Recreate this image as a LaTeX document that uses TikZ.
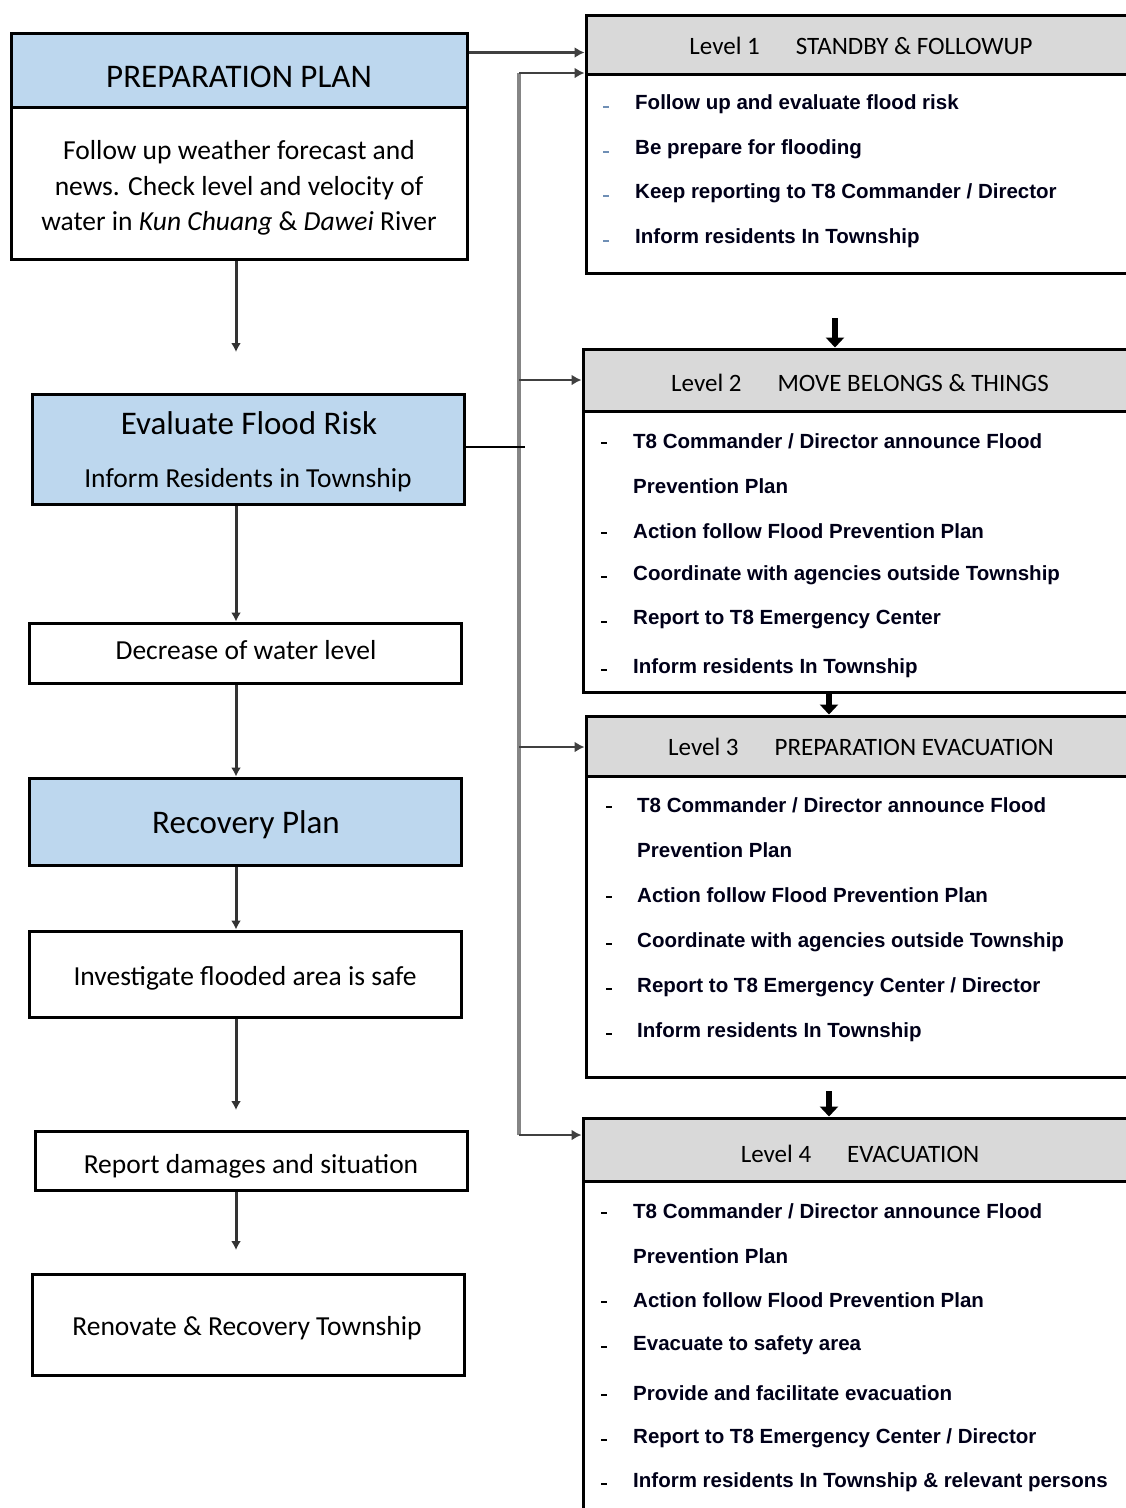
\documentclass[tikz,border=0pt]{standalone}
\usepackage{fontspec}
\setmainfont{Carlito}
\newfontfamily\arialf{Liberation Sans}
\usetikzlibrary{arrows.meta,calc}
\definecolor{hdrblue}{HTML}{BDD7EE}
\definecolor{hdrgray}{HTML}{D9D9D9}
\definecolor{trunkgray}{HTML}{858585}
\definecolor{bulletblue}{HTML}{6F8FB5}
\tikzset{
  box/.style={draw=black,line width=3pt,inner sep=0pt},
  bigtxt/.style={font=\fontsize{33}{36}\selectfont},
  bodytxt/.style={font=\fontsize{27.5}{35.5}\selectfont,align=center},
  lvltxt/.style={font=\fontsize{25}{28}\selectfont},
  itemtxt/.style={font=\arialf\bfseries\fontsize{20.5}{24}\selectfont,anchor=west,inner sep=0pt,text=black!90!blue},
  dashmark/.style={fill=black,inner sep=0pt,minimum width=6pt,minimum height=2.6pt},
  flow/.style={draw=black!80,line width=3pt,-{Latex[length=9pt,width=10pt]}},
  trunk/.style={draw=trunkgray,line width=4pt},
  feed/.style={draw=black!75,line width=2.8pt,-{Latex[length=10pt,width=11pt]}},
  blockarrow/.style={draw=black,line width=6pt,-{Triangle[length=10pt,width=18pt]}},
}
\begin{document}
\begin{tikzpicture}[x=1pt,y=-1pt]
\useasboundingbox (0,0) rectangle (1126,1508);
\clip (0,0) rectangle (1126,1508);
\fill[white] (0,0) rectangle (1126,1508);

% ---------- left column ----------
\node[box,minimum width=456pt,minimum height=226pt] (prep) at (239,146) {};
\node[box,fill=hdrblue,minimum width=456pt,minimum height=74pt] (prephdr) at (239,70) {};
\node[bigtxt] (preptitle) at (239,77) {PREPARATION PLAN};
\node[bodytxt] (preptext) at (239,188) {Follow up weather forecast and\\news. Check level and velocity of\\water in \textit{Kun Chuang} \& \textit{Dawei} River};

\node[box,fill=hdrblue,minimum width=432pt,minimum height=110pt] (eval) at (248,449) {};
\node[bigtxt] (evaltitle) at (249,423) {Evaluate Flood Risk};
\node[bodytxt] (evaltext) at (248,480) {Inform Residents in Township};

\node[box,minimum width=432pt,minimum height=60pt] (dec) at (245,653) {};
\node[bodytxt] (dectext) at (246,650) {Decrease of water level};

\node[box,fill=hdrblue,minimum width=432pt,minimum height=87pt] (rec) at (245,821.5) {};
\node[bigtxt] (rectext) at (246,825) {Recovery Plan};

\node[box,minimum width=432pt,minimum height=86pt] (inv) at (245,974) {};
\node[bodytxt] (invtext) at (245,978) {Investigate flooded area is safe};

\node[box,minimum width=432pt,minimum height=59pt] (rep) at (251,1160.5) {};
\node[bodytxt] (reptext) at (251,1166) {Report damages and situation};

\node[box,minimum width=432pt,minimum height=101pt] (ren) at (248,1324.5) {};
\node[bodytxt] (rentext) at (247,1328) {Renovate \& Recovery Township};

\coordinate (ax) at (236,0);
\coordinate (prepend) at (236,352);
\coordinate (invend) at (236,1110);
\coordinate (repend) at (236,1250);

\draw[flow] (prep.south -| ax) -- (prepend);
\draw[flow] (eval.south -| ax) -- (dec.north -| ax);
\draw[flow] (dec.south -| ax) -- (rec.north -| ax);
\draw[flow] (rec.south -| ax) -- (inv.north -| ax);
\draw[flow] (inv.south -| ax) -- (invend);
\draw[flow] (rep.south -| ax) -- (repend);

% ---------- right column ----------
% Level 1
\node[box,minimum width=550pt,minimum height=258pt] (l1) at (861,144) {};
\node[box,fill=hdrgray,minimum width=550pt,minimum height=59pt] (l1h) at (861,44.5) {};
\node[lvltxt] (l1t) at (861,46) {Level 1\hspace{36pt}STANDBY \& FOLLOWUP};
\foreach \y/\t [count=\i] in {104/{Follow up and evaluate flood risk},149/{Be prepare for flooding},193/{Keep reporting to T8 Commander / Director},238/{Inform residents In Township}}{
  \node[dashmark,fill=bulletblue] (l1d\i) at (606,\y+3) {};
  \node[itemtxt] (l1i\i) at (635,\y) {\t};
}

% Level 2
\node[box,minimum width=554pt,minimum height=343pt] (l2) at (860,520.5) {};
\node[box,fill=hdrgray,minimum width=554pt,minimum height=62pt] (l2h) at (860,380) {};
\node[lvltxt] (l2t) at (860,383) {Level 2\hspace{36pt}MOVE BELONGS \& THINGS};
\foreach \y/\t [count=\i] in {441/{T8 Commander / Director announce Flood},531/{Action follow Flood Prevention Plan},575/{Coordinate with agencies outside Township},620/{Report to T8 Emergency Center},668/{Inform residents In Township}}{
  \node[dashmark] (l2d\i) at (604,\y+2) {};
  \node[itemtxt] (l2i\i) at (633,\y) {\t};
}
\node[itemtxt] (l2c) at (633,486) {Prevention Plan};

% Level 3
\node[box,minimum width=550pt,minimum height=361pt] (l3) at (861,896.5) {};
\node[box,fill=hdrgray,minimum width=550pt,minimum height=60pt] (l3h) at (861,746) {};
\node[lvltxt] (l3t) at (861,747) {Level 3\hspace{36pt}PREPARATION EVACUATION};
\foreach \y/\t [count=\i] in {805/{T8 Commander / Director announce Flood},895/{Action follow Flood Prevention Plan},942/{Coordinate with agencies outside Township},987/{Report to T8 Emergency Center / Director},1032/{Inform residents In Township}}{
  \node[dashmark] (l3d\i) at (609,\y+2) {};
  \node[itemtxt] (l3i\i) at (637,\y) {\t};
}
\node[itemtxt] (l3c) at (637,850) {Prevention Plan};

% Level 4
\node[box,minimum width=554pt,minimum height=420pt] (l4) at (860,1328) {};
\node[box,fill=hdrgray,minimum width=554pt,minimum height=63pt] (l4h) at (860,1149.5) {};
\node[lvltxt] (l4t) at (860,1154) {Level 4\hspace{36pt}EVACUATION};
\foreach \y/\t [count=\i] in {1211/{T8 Commander / Director announce Flood},1300/{Action follow Flood Prevention Plan},1345/{Evacuate to safety area},1393/{Provide and facilitate evacuation},1438/{Report to T8 Emergency Center / Director},1482/{Inform residents In Township \& relevant persons}}{
  \node[dashmark] (l4d\i) at (604,\y+2) {};
  \node[itemtxt] (l4i\i) at (633,\y) {\t};
}
\node[itemtxt] (l4c) at (633,1256) {Prevention Plan};

% block arrows between levels
\coordinate (b1a) at (835,318);
\coordinate (b2x) at (829,0);
\draw[blockarrow] (b1a) -- (b1a |- l2.north);
\draw[blockarrow] (l2.south -| b2x) -- (l3.north -| b2x);
\coordinate (b3a) at (829,1091);
\draw[blockarrow] (b3a) -- (b3a |- l4.north);

% trunk connectors
\coordinate (t1) at (519,73);
\coordinate (t2) at (519,380);
\coordinate (t3) at (519,747);
\coordinate (t4) at (519,1135);
\coordinate (ej) at (525,447);
\coordinate (pe) at ($(prep.north east)+(0,21)$);
\draw[trunk] (t1) -- (t4);
\draw[feed] (t1) -- (t1 -| l1.west);
\draw[feed] (t2) -- (t2 -| l2.west);
\draw[feed] (t3) -- (t3 -| l3.west);
\draw[feed] (t4) -- (t4 -| l4.west);
\draw[feed] (pe) -- (pe -| l1.west);
\draw[draw=black,line width=2.6pt] (eval.east |- ej) -- (ej);
\end{tikzpicture}
\end{document}
